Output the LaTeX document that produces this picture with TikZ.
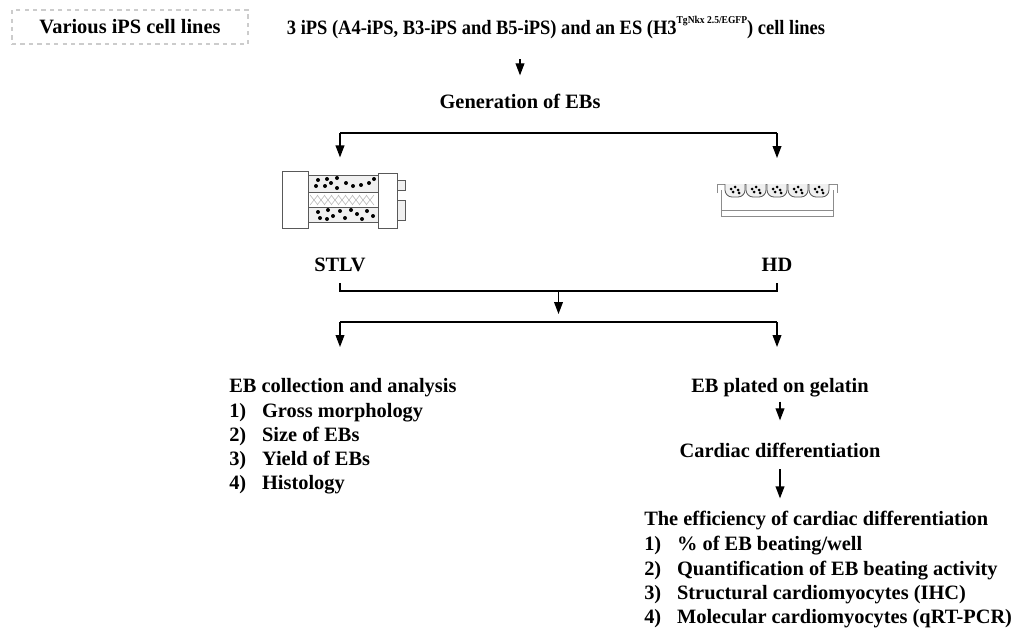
\documentclass[tikz,border=0pt]{standalone}
\usepackage{fontspec}
\setmainfont{Liberation Serif}
\usetikzlibrary{arrows.meta}

\begin{document}
\begin{tikzpicture}[x=0.025cm, y=-0.025cm,
		txt/.style={inner sep=0pt, anchor=base, font=\fontsize{14.5}{17}\selectfont\bfseries},
		lst/.style={txt, anchor=base west},
		arr/.style={line width=0.9pt, -{Triangle[length=0.3cm, width=0.22cm]}},
		ln/.style={line width=0.9pt},
		part/.style={draw=black!65, line width=0.6pt}]
		\def \num#1{\makebox[0.82cm][l]{#1}}
		\useasboundingbox (0,0) rectangle (1023,639);

		% top row
		\node[draw=gray!40, dashed, line width=0.8pt, minimum width=5.9cm, minimum height=0.85cm, font=\fontsize{14.5}{17}\selectfont\bfseries] (0) at (130,27) {Various iPS cell lines};
		\node[txt] (1) at (556,34) {\scalebox{0.905}[1]{3 iPS (A4-iPS, B3-iPS and B5-iPS) and an ES (H3\raisebox{1.15ex}{\fontsize{7.5}{8}\selectfont TgNkx 2.5/EGFP}) cell lines}};
		\node[txt] (2) at (520,108) {Generation of EBs};
		\draw[arr, shorten <= 0.52cm, shorten >= 0.45cm] (2 |- 1.south) -- (2.north);

		% first split
		\coordinate (3) at (340,133);
		\coordinate (4) at (777,133);
		\node[inner sep=0pt, minimum width=3.08cm, minimum height=1.43cm] (5) at (343,199.5) {};
		\node[inner sep=0pt, minimum width=3cm, minimum height=0.85cm] (6) at (777,200.5) {};
		\draw[ln] (3) -- (4);
		\draw[arr, shorten >= 0.33cm] (3) -- (3 |- 5.north);
		\draw[arr, shorten >= 0.63cm] (4) -- (4 |- 6.north);

		% STLV vessel
		\draw[part, fill=gray!12] (308,175) rectangle (378,192);
		\draw[part, fill=gray!12] (308,207) rectangle (378,222);
		\draw[part, fill=white] (308,192) rectangle (378,207);
		\foreach \x in {310,317,...,366}
			\draw[gray!55, line width=0.4pt] (\x,195) -- (\x+8,205) (\x,205) -- (\x+8,195);
		\foreach \p in {(318,180),(316,186),(327,179),(325,186),(337,178),(337,188),(346,183),(353,186),(361,185),(369,183),(374,179),(331,183)}
			\fill \p circle (2);
		\foreach \p in {(318,212),(320,218),(328,210),(333,216),(340,211),(345,218),(351,210),(357,214),(362,219),(367,211),(373,216),(327,219)}
			\fill \p circle (2);
		\draw[part, fill=white] (282,171) rectangle (308,228);
		\draw[part, fill=white] (378,173) rectangle (397,228);
		\draw[part, fill=gray!12] (397,180) rectangle (405,190);
		\draw[part, fill=gray!12] (397,200) rectangle (405,220);

		% HD plate
		\draw[part, draw=black!45] (717,193) -- (717,184) -- (837,184) -- (837,193);
		\draw[part, draw=black!45] (721,190) -- (721,217) (833,190) -- (833,217);
		\draw[part, draw=black!45] (721,210) -- (833,210) (721,216) -- (833,216);
		\foreach \x in {725,746,767,788,809} {
			\draw[part, fill=gray!12, rounded corners=5] (\x,184) -- (\x,197) -- (\x+20,197) -- (\x+20,184);
			\fill (\x+6,189) circle (1.5) (\x+10,187) circle (1.5) (\x+13,190) circle (1.5) (\x+8,192) circle (1.5) (\x+14,193) circle (1.5);
		}

		\node[txt] (7) at (340,271) {STLV};
		\node[txt] (8) at (777,271) {HD};

		% merge and second split
		\coordinate (9) at (340,283);
		\coordinate (10) at (340,291);
		\coordinate (11) at (777,291);
		\coordinate (12) at (777,283);
		\coordinate (13) at (558.5,291);
		\coordinate (14) at (340,322);
		\coordinate (15) at (777,322);
		\coordinate (16) at (558.5,322);
		\coordinate (17) at (340,347);
		\coordinate (18) at (777,347);
		\draw[ln] (9) -- (10) -- (11) -- (12);
		\draw[arr, shorten >= 0.2cm] (13) -- (16);
		\draw[ln] (14) -- (15);
		\draw[arr] (14) -- (17);
		\draw[arr] (15) -- (18);

		% left branch
		\node[lst] (19) at (229,392) {EB collection and analysis};
		\node[lst] (20) at (229,417) {\num{1)}Gross morphology};
		\node[lst] (21) at (229,441) {\num{2)}Size of EBs};
		\node[lst] (22) at (229,465) {\num{3)}Yield of EBs};
		\node[lst] (23) at (229,489) {\num{4)}Histology};

		% right branch
		\node[txt] (24) at (780,392) {EB plated on gelatin};
		\node[txt] (25) at (780,457) {Cardiac differentiation};
		\node[lst] (26) at (644,525) {The efficiency of cardiac differentiation};
		\node[lst] (27) at (644,550) {\num{1)}\% of EB beating/well};
		\node[lst] (28) at (644,575) {\num{2)}Quantification of EB beating activity};
		\node[lst] (29) at (644,599) {\num{3)}Structural cardiomyocytes (IHC)};
		\node[lst] (30) at (644,623) {\num{4)}Molecular cardiomyocytes (qRT-PCR)};
		\draw[arr, shorten <= 0.12cm, shorten >= 0.55cm] (24) -- (25);
		\draw[arr, shorten <= 0.3cm, shorten >= 0.3cm] (25.south -| 24) -- (24 |- 26.north);
	\end{tikzpicture}
\end{document}
